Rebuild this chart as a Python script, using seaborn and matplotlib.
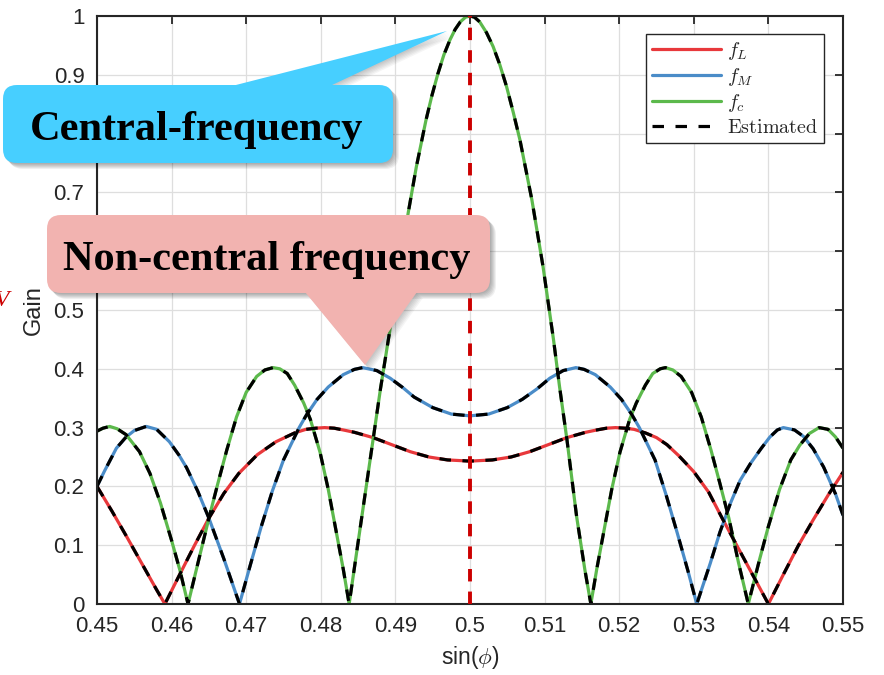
import numpy as np
import pandas as pd
import seaborn as sns
import matplotlib.pyplot as plt
from matplotlib.lines import Line2D
from matplotlib.patches import FancyBboxPatch, Polygon
from matplotlib.transforms import Affine2D

# values (sin(phi) -> gain)
red_u = [0.450, 0.452, 0.454, 0.456, 0.458, 0.4591, 0.461, 0.463, 0.465, 0.467, 0.469, 0.4715,
         0.474, 0.4765, 0.478, 0.4793, 0.4805, 0.4818, 0.483, 0.4845, 0.487, 0.4895, 0.492, 0.4945,
         0.497, 0.500, 0.503, 0.5055, 0.508, 0.5105, 0.513, 0.5155, 0.517, 0.5183, 0.5195, 0.5208,
         0.522, 0.5235, 0.525, 0.5264, 0.528, 0.530, 0.532, 0.5338, 0.536, 0.538, 0.540, 0.542,
         0.544, 0.546, 0.548, 0.550]
red_g = [0.200, 0.158, 0.114, 0.069, 0.024, 0.000, 0.048, 0.098, 0.146, 0.188, 0.222, 0.254,
         0.276, 0.291, 0.297, 0.299, 0.300, 0.299, 0.296, 0.292, 0.283, 0.271, 0.259, 0.250,
         0.245, 0.243, 0.245, 0.250, 0.259, 0.271, 0.283, 0.292, 0.296, 0.299, 0.300, 0.299,
         0.297, 0.291, 0.283, 0.271, 0.252, 0.225, 0.190, 0.146, 0.094, 0.047, 0.000, 0.050,
         0.099, 0.143, 0.185, 0.224]

blue_u = [0.450, 0.451, 0.4526, 0.4539, 0.455, 0.4566, 0.458, 0.4597, 0.461, 0.462, 0.4635, 0.465,
          0.467, 0.4691, 0.4705, 0.472, 0.4735, 0.475, 0.4771, 0.4781, 0.4795, 0.481, 0.483, 0.4845,
          0.4856, 0.4875, 0.4893, 0.491, 0.4925, 0.495, 0.4975, 0.500, 0.5025, 0.505, 0.507, 0.509,
          0.5107, 0.5125, 0.5142, 0.5153, 0.5168, 0.5188, 0.5203, 0.5217, 0.5227, 0.5248, 0.5263,
          0.5278, 0.5292, 0.5304, 0.5322, 0.5335, 0.5349, 0.5362, 0.5376, 0.539, 0.5402, 0.5412,
          0.542, 0.5435, 0.5447, 0.546, 0.5474, 0.549, 0.550]
blue_g = [0.200, 0.226, 0.265, 0.284, 0.295, 0.302, 0.297, 0.276, 0.253, 0.232, 0.192, 0.146,
          0.077, 0.000, 0.064, 0.131, 0.192, 0.245, 0.300, 0.322, 0.348, 0.369, 0.390, 0.399,
          0.402, 0.397, 0.384, 0.368, 0.352, 0.334, 0.323, 0.320, 0.323, 0.334, 0.348, 0.366,
          0.384, 0.397, 0.402, 0.399, 0.390, 0.369, 0.348, 0.322, 0.300, 0.245, 0.185,
          0.120, 0.057, 0.000, 0.069, 0.122, 0.171, 0.210, 0.239, 0.264, 0.284, 0.296,
          0.300, 0.296, 0.285, 0.264, 0.233, 0.187, 0.151]

green_u = [0.450, 0.4508, 0.4517, 0.4527, 0.4539, 0.4557, 0.4571, 0.4585, 0.460, 0.4611, 0.4622,
           0.4635, 0.465, 0.4662, 0.4674, 0.4687, 0.470, 0.4714, 0.4725, 0.4736, 0.4745, 0.4755,
           0.4765, 0.4777, 0.4786, 0.4799, 0.481, 0.4822, 0.483, 0.4838, 0.485, 0.486, 0.487,
           0.488, 0.4892, 0.4905, 0.4917, 0.4928, 0.4941, 0.4949, 0.4957, 0.4965, 0.4973, 0.498,
           0.4987, 0.4994, 0.500, 0.5006, 0.5013, 0.5022, 0.5031, 0.504, 0.5049, 0.5058, 0.5067,
           0.5083, 0.5098, 0.5112, 0.512, 0.513, 0.5143, 0.5154, 0.5162, 0.517, 0.5178, 0.519,
           0.5201, 0.5214, 0.5223, 0.5235, 0.5245, 0.5255, 0.5262, 0.5272, 0.5283, 0.5297, 0.531,
           0.5323, 0.5335, 0.5347, 0.536, 0.5373, 0.5388, 0.540, 0.5415, 0.543, 0.5442, 0.5455,
           0.5468, 0.548, 0.549, 0.550]
green_g = [0.294, 0.299, 0.302, 0.298, 0.288, 0.259, 0.222, 0.172, 0.108, 0.058, 0.000,
           0.068, 0.146, 0.205, 0.262, 0.318, 0.360, 0.387, 0.398, 0.402, 0.400, 0.392,
           0.372, 0.342, 0.314, 0.258, 0.195, 0.114, 0.060, 0.000, 0.105, 0.192, 0.279,
           0.366, 0.461, 0.565, 0.664, 0.743, 0.823, 0.865, 0.902, 0.934, 0.959, 0.977,
           0.990, 0.998, 1.000, 0.998, 0.990, 0.972, 0.948, 0.917, 0.880, 0.836, 0.789,
           0.687, 0.573, 0.449, 0.370, 0.279, 0.148, 0.058, 0.000, 0.060, 0.114, 0.195,
           0.258, 0.314, 0.342, 0.372, 0.392, 0.400, 0.402, 0.398, 0.387, 0.360, 0.318,
           0.262, 0.205, 0.146, 0.070, 0.000, 0.075, 0.132, 0.195, 0.245, 0.270, 0.290,
           0.300, 0.297, 0.284, 0.265]

curve_names = ["f_L", "f_M", "f_c"]
curve_colors = ["#E8383B", "#4A8CC8", "#5CB94C"]
x_ticks = [0.45, 0.46, 0.47, 0.48, 0.49, 0.5, 0.51, 0.52, 0.53, 0.54, 0.55]
x_ticklabels = ["0.45", "0.46", "0.47", "0.48", "0.49", "0.5", "0.51", "0.52", "0.53", "0.54", "0.55"]
y_ticks = [0, 0.1, 0.2, 0.3, 0.4, 0.5, 0.6, 0.7, 0.8, 0.9, 1]
# 0.6 and 0.8 sit under the callout boxes
y_ticklabels = ["0", "0.1", "0.2", "0.3", "0.4", "0.5", "", "0.7", "", "0.9", "1"]

df = pd.concat([
    pd.DataFrame({"u": red_u, "gain": red_g, "curve": "f_L"}),
    pd.DataFrame({"u": blue_u, "gain": blue_g, "curve": "f_M"}),
    pd.DataFrame({"u": green_u, "gain": green_g, "curve": "f_c"}),
], ignore_index=True)

sns.set_style("white")
plt.rcParams["font.family"] = ["Liberation Sans", "DejaVu Sans"]
plt.rcParams["mathtext.fontset"] = "cm"

fig = plt.figure(figsize=(8.84, 6.75), dpi=100)
ax = fig.add_axes([97 / 884, 1 - 604 / 675, 746 / 884, 588 / 675])

sns.lineplot(data=df, x="u", y="gain", hue="curve", hue_order=curve_names,
             palette=curve_colors, estimator=None, sort=False, lw=2.3, legend=False, ax=ax)
for name in curve_names:
    sub = df[df["curve"] == name]
    ax.plot(sub["u"], sub["gain"], color="black", lw=2.3, linestyle=(0, (3.6, 3.6)))

ax.axvline(0.5, ymin=0, ymax=1, color="#CC0000", lw=2.8, linestyle=(0, (3.2, 2.6)), zorder=5)

ax.set_xlim(0.45, 0.55)
ax.set_ylim(0, 1)
ax.set_xticks(x_ticks)
ax.set_xticklabels(x_ticklabels)
ax.set_yticks(y_ticks)
ax.set_yticklabels(y_ticklabels)
ax.grid(True, color="#DEDEDE", lw=0.9)
ax.set_axisbelow(True)
ax.tick_params(direction="in", top=True, right=True, length=6, width=1.3,
               labelsize=16, colors="#262626", pad=9)
for sp in ax.spines.values():
    sp.set_color("#262626")
    sp.set_linewidth(1.5)
ax.set_xlabel(r"sin($\phi$)", fontsize=16.5, color="#262626", labelpad=5)
ax.set_ylabel("Gain", fontsize=17, color="#262626", labelpad=6)

handles = [Line2D([], [], color=c, lw=2.3) for c in curve_colors]
handles.append(Line2D([], [], color="black", lw=2.3, linestyle=(0, (3.6, 3.6))))
labels = [r"$f_L$", r"$f_M$", r"$f_c$", r"$\mathrm{Estimated}$"]
leg = ax.legend(handles, labels, loc="upper right", bbox_to_anchor=(824 / 884, 1 - 34 / 675),
                bbox_transform=fig.transFigure, borderaxespad=0, fontsize=14.5,
                handlelength=3.4, handletextpad=0.3, labelspacing=0.2, borderpad=0.3,
                fancybox=False, framealpha=1, edgecolor="#262626")
leg.get_frame().set_linewidth(1.0)

# pixel coordinates on the figure (y measured downward)
PX = Affine2D().scale(1 / 100, -1 / 100).translate(0, 6.75) + fig.dpi_scale_trans


def callout(box, tri, color, text, tx, ty):
    x0, y0, x1, y1 = box
    for k in range(1, 7):
        fig.add_artist(FancyBboxPatch((x0 + k, y0 + k), x1 - x0, y1 - y0,
                                      boxstyle="round,pad=0,rounding_size=14",
                                      transform=PX, fc="black", ec="none", alpha=0.06, zorder=10))
        fig.add_artist(Polygon([(px + k, py + k) for px, py in tri], closed=True, transform=PX,
                               fc="black", ec="none", alpha=0.04, zorder=10))
    fig.add_artist(FancyBboxPatch((x0, y0), x1 - x0, y1 - y0,
                                  boxstyle="round,pad=0,rounding_size=14",
                                  transform=PX, fc=color, ec="none", zorder=11))
    fig.add_artist(Polygon(tri, closed=True, transform=PX, fc=color, ec="none", zorder=11))
    fig.text(tx / 884, 1 - ty / 675, text, ha="center", va="baseline", fontsize=30.5,
             fontweight="bold", family="Liberation Serif", color="black", zorder=12)


callout((3, 85, 393, 163), [(232, 86), (330, 86), (447, 31)], "#47CFFF",
        "Central-frequency", 197, 140)
callout((47, 215, 490, 293), [(305, 292), (417, 292), (365, 365)], "#F2B3B0",
        "Non-central frequency", 267, 270)

# partly clipped red letter at the left edge, as in the reference
fig.text(9 / 884, 1 - 306 / 675, "V", ha="right", va="baseline", fontsize=17,
         style="italic", family="Liberation Serif", color="#CC0000")

fig.savefig("out.png", dpi=100)
